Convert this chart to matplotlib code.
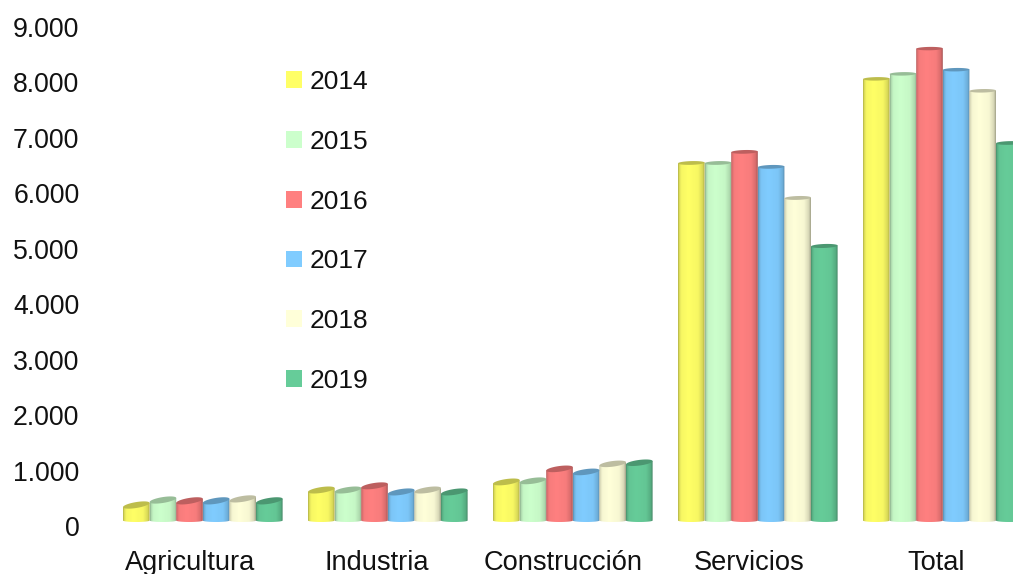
import numpy as np
import matplotlib
matplotlib.use("Agg")
import matplotlib.pyplot as plt
from matplotlib.patches import Polygon, Patch
from matplotlib.colors import to_rgb
from matplotlib.transforms import ScaledTranslation

categories = ["Agricultura", "Industria", "Construcción", "Servicios", "Total"]
years = ["2014", "2015", "2016", "2017", "2018", "2019"]
v2014 = [450, 720, 865, 6600, 8115]
v2015 = [540, 720, 885, 6600, 8205]
v2016 = [525, 795, 1100, 6800, 8660]
v2017 = [525, 685, 1045, 6530, 8280]
v2018 = [560, 720, 1190, 5970, 7900]
v2019 = [525, 685, 1210, 5105, 6960]
series = [v2014, v2015, v2016, v2017, v2018, v2019]
colors = ["#FFFF66", "#CCFFCC", "#FF8080", "#80CCFF", "#FFFFD9", "#66CC99"]
yticks = list(range(0, 10000, 1000))
yticklabels = ["0", "1.000", "2.000", "3.000", "4.000", "5.000", "6.000", "7.000", "8.000", "9.000"]

W, H = 1013, 574
plt.rcParams["font.family"] = ["Liberation Sans", "DejaVu Sans"]
fig = plt.figure(figsize=(W / 100, H / 100), dpi=100)
left, base_px = 85, 527
ax = fig.add_axes([left / W, (H - base_px) / H, (W - left) / W, base_px / H])

px_per_cat = 185.0
bar_w = 26.6 / px_per_cat
x0_px = 202.8
ax.set_xlim((left - x0_px) / px_per_cat, (W - x0_px) / px_per_cat)
ax.set_ylim(0, base_px / 0.05544)
unit = 1 / 0.05544  # data units per pixel
floor = 90

def shade(color, n=64):
    c = np.array(to_rgb(color))
    t = np.linspace(0, 1, n)
    f = np.interp(t, [0, .04, .12, .38, .75, .93, 1], [.70, .86, .97, 1.0, .97, .84, .64])
    rgb = np.clip(c[None] * f[:, None], 0, 1)
    return rgb[None, :, :]

for s, (vals, col) in enumerate(zip(series, colors)):
    for i, v in enumerate(vals):
        xl = i + (s - 3) * bar_w
        xr = xl + bar_w
        xc = (xl + xr) / 2
        # perspective: ellipses are taller near the floor, flatter high up
        eh = np.interp(v, [300, 1300, 5000, 8700], [3.0, 2.8, 2.0, 1.7]) * unit
        tilt = np.interp(v, [300, 1300, 5000, 8700], [2.2, 1.6, 0.5, 0.2]) * unit
        th = np.linspace(0, 2 * np.pi, 80)
        ex = xc + bar_w / 2 * np.cos(th)
        ey = v - eh + eh * np.sin(th) + tilt * np.cos(th)
        ey_l = v - eh - tilt
        ey_r = v - eh + tilt
        th_b = np.linspace(np.pi, 2 * np.pi, 30)
        bx = xc + bar_w / 2 * np.cos(th_b)
        by = floor + 1.5 * unit + 1.5 * unit * np.sin(th_b)
        body_x = np.r_[xl, bx, xr]
        body_y = np.r_[ey_l, by, ey_r]
        im = ax.imshow(shade(col), extent=[xl, xr, floor, v], aspect="auto",
                       origin="lower", zorder=3 + s * .01, interpolation="bilinear")
        poly = Polygon(np.c_[body_x, body_y], closed=True, transform=ax.transData,
                       fc="none", ec="none")
        ax.add_patch(poly)
        im.set_clip_path(poly)
        top_col = np.array(to_rgb(col)) * 0.74
        ax.add_patch(Polygon(np.c_[ex, ey], closed=True, fc=top_col, ec="none", zorder=3.5 + s * .01))

ax.set_xlim((left - x0_px) / px_per_cat, (W - x0_px) / px_per_cat)
ax.set_ylim(0, base_px / 0.05544)

for sp in ax.spines.values():
    sp.set_visible(False)
ax.patch.set_alpha(0)
ax.set_yticks(yticks)
ax.set_yticklabels(yticklabels, fontsize=19.2, color="#111111")
ax.tick_params(axis="y", length=0, pad=4)
up_1px = ScaledTranslation(0, 1 / 100, fig.dpi_scale_trans)
for lab in ax.get_yticklabels():
    lab.set_transform(lab.get_transform() + up_1px)
label_step = 186.5 / px_per_cat
label_start = (190 - x0_px) / px_per_cat
ax.set_xticks(label_start + label_step * np.arange(len(categories)))
ax.set_xticklabels(categories, fontsize=19.6, color="#111111")
ax.tick_params(axis="x", length=0, pad=16.2)

handles = [Patch(fc=c, ec="none") for c in colors]
leg = fig.legend(handles, years, loc="upper left", bbox_to_anchor=(286 / W, 1 - 70 / H),
                 bbox_transform=fig.transFigure, frameon=False, fontsize=19, borderpad=0,
                 borderaxespad=0, handlelength=0.6, handleheight=0.6, handletextpad=0.28,
                 labelspacing=1.355, labelcolor="#111111")

fig.savefig("out.png", dpi=100)
